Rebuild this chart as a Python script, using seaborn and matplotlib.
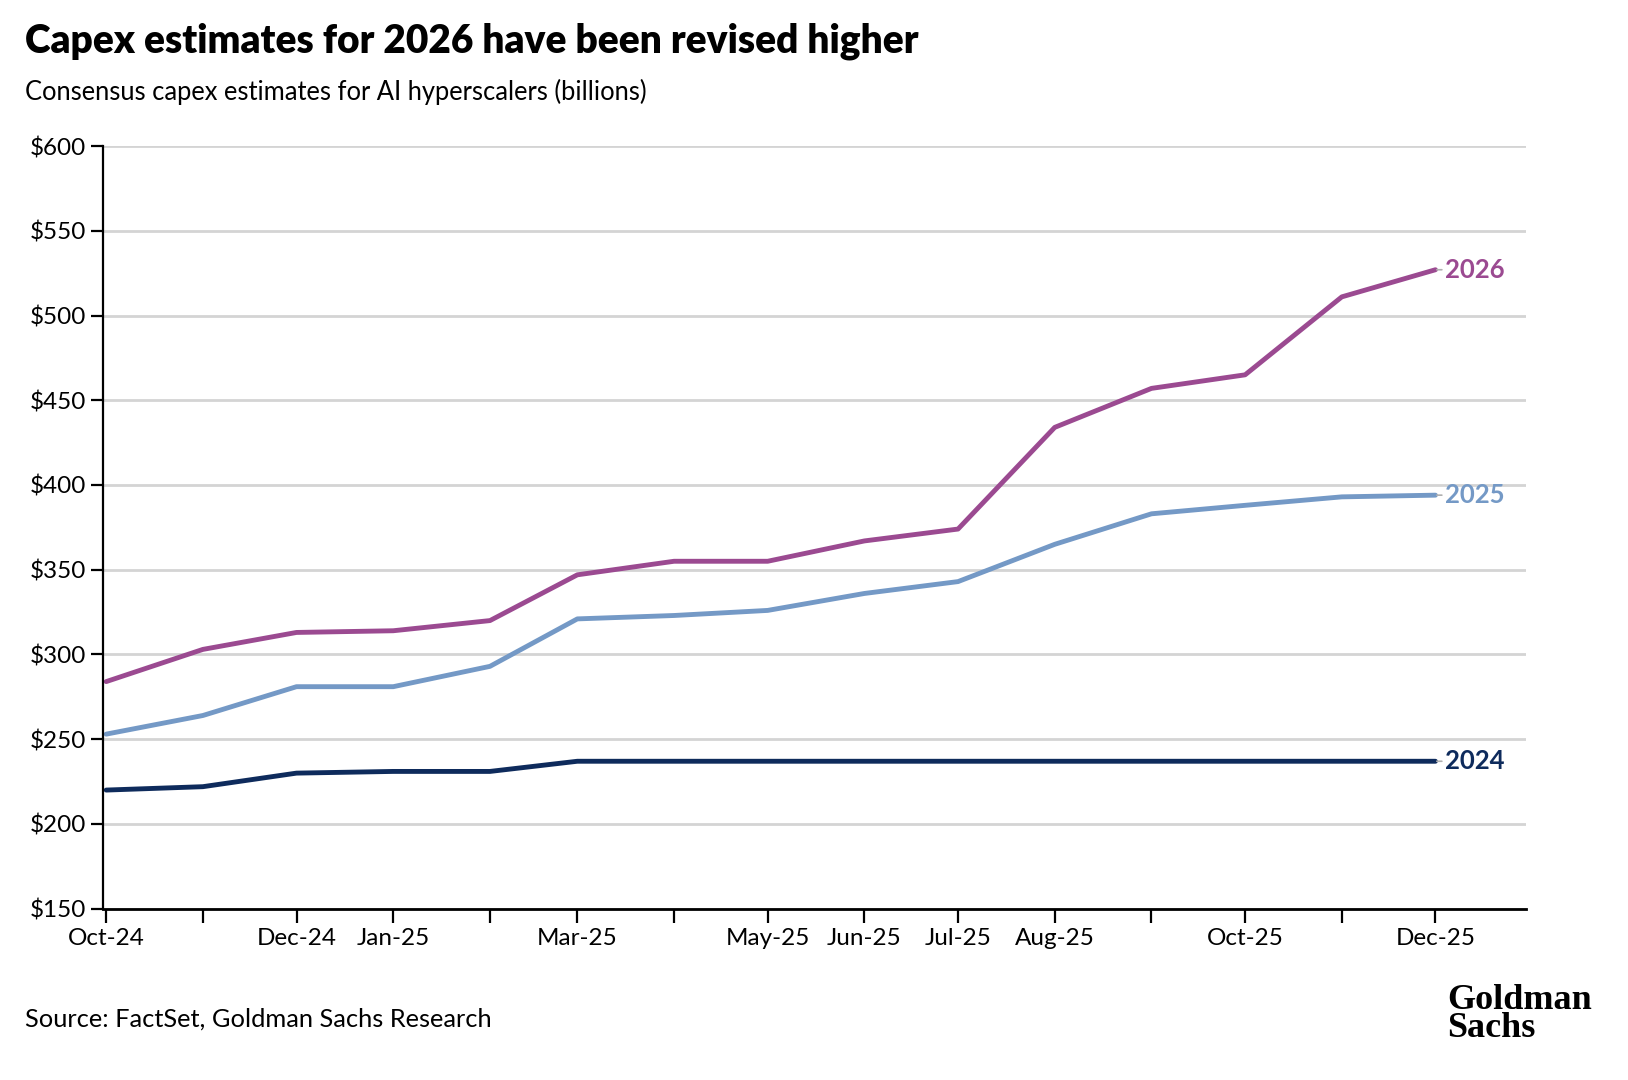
import matplotlib
matplotlib.use("Agg")
import matplotlib.pyplot as plt
import seaborn as sns
import pandas as pd

# datos (miles de millones USD)
meses = ["2024-10-01", "2024-11-01", "2024-12-01", "2025-01-01", "2025-02-01",
         "2025-03-01", "2025-04-01", "2025-05-01", "2025-06-01", "2025-07-01",
         "2025-08-01", "2025-09-01", "2025-10-01", "2025-11-01", "2025-12-01"]
capex_2026 = [284, 303, 313, 314, 320, 347, 355, 355, 367, 374, 434, 457, 465, 511, 527]
capex_2025 = [253, 264, 281, 281, 293, 321, 323, 326, 336, 343, 365, 383, 388, 393, 394]
capex_2024 = [220, 222, 230, 231, 231, 237, 237, 237, 237, 237, 237, 237, 237, 237, 237]
etiquetas_x = ["Oct-24", "", "Dec-24", "Jan-25", "", "Mar-25", "", "May-25",
               "Jun-25", "Jul-25", "Aug-25", "", "Oct-25", "", "Dec-25"]
y_ticks = [150, 200, 250, 300, 350, 400, 450, 500, 550, 600]

colores = {"2026": "#9b4a91", "2025": "#7499c6", "2024": "#0e2b5c"}

fechas = pd.to_datetime(meses)
df = pd.concat([
    pd.DataFrame({"fecha": fechas, "capex": capex_2026, "serie": "2026"}),
    pd.DataFrame({"fecha": fechas, "capex": capex_2025, "serie": "2025"}),
    pd.DataFrame({"fecha": fechas, "capex": capex_2024, "serie": "2024"}),
])

sns.set_style("white")
plt.rcParams["font.family"] = ["Lato", "DejaVu Sans"]
plt.rcParams["text.color"] = "black"
plt.rcParams["xtick.color"] = "black"
plt.rcParams["ytick.color"] = "black"

fig = plt.figure(figsize=(16.28, 10.8), dpi=100)
ax = fig.add_axes([0.0633, 0.1586, 0.874, 0.7062])

ax.yaxis.grid(True, color="#d4d4d4", linewidth=2)
ax.set_axisbelow(True)

sns.lineplot(data=df, x="fecha", y="capex", hue="serie", palette=colores,
             linewidth=3.5, legend=False, ax=ax)

ax.set_ylim(150, 600)
ax.set_yticks(y_ticks)
ax.set_yticklabels([f"${v}" for v in y_ticks])
ax.set_xlim(pd.Timestamp("2024-09-30"), pd.Timestamp("2025-12-30"))
ax.set_xticks(fechas)
ax.set_xticklabels(etiquetas_x)
ax.set_xlabel("")
ax.set_ylabel("")

for s in ["top", "right"]:
    ax.spines[s].set_visible(False)
ax.spines["left"].set_color("black")
ax.spines["left"].set_linewidth(1.6)
ax.spines["bottom"].set_color("black")
ax.spines["bottom"].set_linewidth(2.0)
ax.tick_params(axis="y", length=9, width=1.6, labelsize=17.5, pad=3)
ax.tick_params(axis="x", length=10, width=1.6, labelsize=17.5, pad=4)
ax.tick_params(bottom=True, left=True)

# etiquetas al final de cada serie
for serie, valores in [("2026", capex_2026), ("2025", capex_2025), ("2024", capex_2024)]:
    ax.annotate(serie, xy=(fechas[-1], valores[-1]), xytext=(7, 0),
                textcoords="offset points", va="center", ha="left",
                fontsize=18.5, fontweight="bold", color=colores[serie],
                arrowprops=dict(arrowstyle="-", color="#b0b0b0", lw=1.2,
                                shrinkA=0, shrinkB=1))

fig.text(0.0153, 0.962, "Capex estimates for 2026 have been revised higher",
         fontsize=28, fontweight="heavy", va="center", ha="left")
fig.text(0.0153, 0.915, "Consensus capex estimates for AI hyperscalers (billions)",
         fontsize=18.4, va="center", ha="left")
fig.text(0.0153, 0.056, "Source: FactSet, Goldman Sachs Research",
         fontsize=18.3, va="center", ha="left")
fig.text(0.889, 0.061, "Goldman\nSachs", fontsize=26, fontweight="bold",
         family="Liberation Serif", va="center", ha="left", linespacing=0.8)

fig.savefig("out.png", dpi=100)
